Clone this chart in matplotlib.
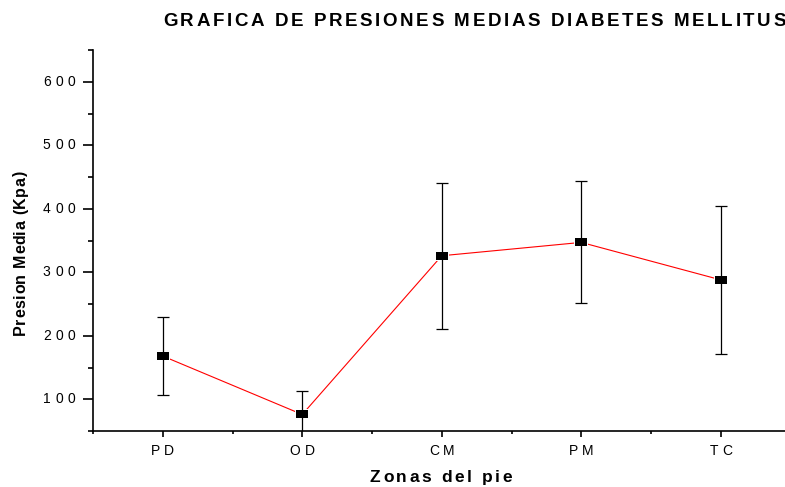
import matplotlib
matplotlib.use("Agg")
import matplotlib.pyplot as plt
import numpy as np
from matplotlib.font_manager import FontProperties, findfont, get_font
from matplotlib.transforms import IdentityTransform, blended_transform_factory, Affine2D
from matplotlib.ticker import MultipleLocator, FixedLocator
from matplotlib.path import Path

# Mean plantar pressure per foot zone, with error bar half-widths
zones = ["PD", "OD", "CM", "PM", "TC"]
mean_pressure = [168, 76, 326, 347, 288]
pressure_err = [62, 37, 115, 96, 116]
y_ticks = [100, 200, 300, 400, 500, 600]

title = "GRAFICA DE PRESIONES MEDIAS DIABETES MELLITUS"
x_label = "Zonas del pie"
y_label = "Presion Media (Kpa)"

DPI = 100
W, H = 785, 487
FAMILY = "Liberation Sans"

fig = plt.figure(figsize=(W / DPI, H / DPI), dpi=DPI)
ax = fig.add_axes([93 / W, 56 / H, 697.5 / W, 381 / H])

x = np.arange(1, len(zones) + 1)

# slightly wide rectangular marker
rect = Path([(-1, -0.7), (1, -0.7), (1, 0.7), (-1, 0.7), (-1, -0.7)],
            [Path.MOVETO, Path.LINETO, Path.LINETO, Path.LINETO, Path.CLOSEPOLY])

# connecting line; white halo markers leave a small gap around each point
ax.plot(x, mean_pressure, color="red", lw=0.8, marker=rect, ms=10.5,
        mfc="white", mec="white", mew=0, zorder=2)
ax.errorbar(x, mean_pressure, yerr=pressure_err, fmt="none", ecolor="black",
            elinewidth=0.9, capsize=4, capthick=0.9, zorder=3)
ax.plot(x, mean_pressure, ls="none", marker=rect, ms=8,
        mfc="black", mec="black", mew=0, zorder=4)

ax.set_xlim(0.5, len(zones) + 0.5)
ax.set_ylim(50, 650)

for side in ("top", "right"):
    ax.spines[side].set_visible(False)
for side in ("left", "bottom"):
    ax.spines[side].set_linewidth(1.2)
    ax.spines[side].set_clip_on(False)

ax.xaxis.set_major_locator(FixedLocator(x))
ax.xaxis.set_minor_locator(FixedLocator(np.arange(0.5, len(zones) + 1, 1.0)))
ax.yaxis.set_major_locator(FixedLocator(y_ticks))
ax.yaxis.set_minor_locator(MultipleLocator(50))

ax.tick_params(axis="x", which="major", direction="out", length=4.3, width=1.2)
ax.tick_params(axis="x", which="minor", direction="out", length=2.2, width=1.2)
ax.tick_params(axis="y", which="major", direction="out", length=7.5, width=1.2)
ax.tick_params(axis="y", which="minor", direction="out", length=3.8, width=1.2)
ax.tick_params(labelbottom=False, labelleft=False)


def advances(s, fp):
    font = get_font(findfont(fp))
    font.set_size(fp.get_size_in_points(), DPI)
    out = []
    for ch in s:
        g = font.load_char(ord(ch))
        out.append(g.linearHoriAdvance / 65536)
    return out


def spaced_text(xp, yp, s, transform, fp, spacing, ha="center", vertical=False,
                va="baseline"):
    adv = advances(s, fp)
    total = sum(adv) + spacing * (len(s) - 1)
    off = {"left": 0.0, "center": -total / 2, "right": -total}[ha]
    for ch, a in zip(s, adv):
        if ch != " ":
            if vertical:
                tr = transform + Affine2D().translate(0, off)
                fig.text(xp, yp, ch, transform=tr, fontproperties=fp,
                         rotation=90, rotation_mode="anchor",
                         ha="left", va=va)
            else:
                tr = transform + Affine2D().translate(off, 0)
                fig.text(xp, yp, ch, transform=tr, fontproperties=fp,
                         ha="left", va=va)
        off += a + spacing


pix = IdentityTransform()
fp_title = FontProperties(family=FAMILY, weight="bold", size=13.5)
fp_xlabel = FontProperties(family=FAMILY, weight="bold", size=12.5)
fp_ylabel = FontProperties(family=FAMILY, weight="bold", size=11.5)
fp_tick = FontProperties(family=FAMILY, size=10)

# title
spaced_text(163, H - 26, title, pix, fp_title, 2.6, ha="left")

# x tick labels
xt = blended_transform_factory(ax.transData, pix)
for xi, lab in zip(x, zones):
    spaced_text(xi, H - 455, lab, xt, fp_tick, 4.0, ha="center")

# y tick labels
yt = blended_transform_factory(pix, ax.transData)
for v in y_ticks:
    spaced_text(75, v, str(v), yt, fp_tick, 4.5, ha="right", va="center")

# axis labels
spaced_text(441, H - 482, x_label, pix, fp_xlabel, 2.6, ha="center")
spaced_text(25, H - 253, y_label, pix, fp_ylabel, 0.6, ha="center",
            vertical=True)

fig.savefig("out.png", dpi=DPI)
